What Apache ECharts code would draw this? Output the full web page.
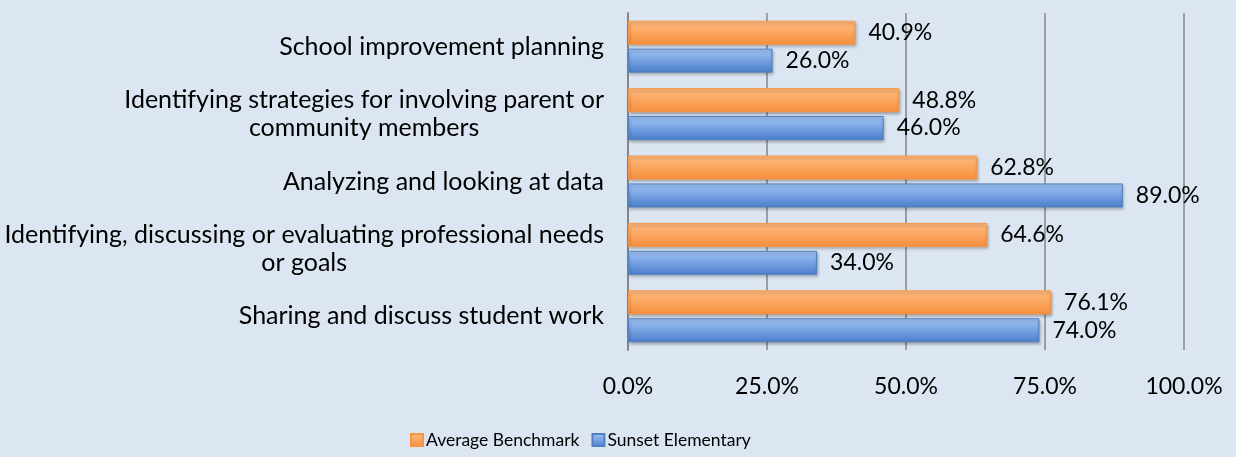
<!DOCTYPE html>
<html>
<head>
<meta charset="utf-8">
<script src="https://cdn.jsdelivr.net/npm/echarts@6/dist/echarts.min.js"></script>
<style>
  html, body { margin: 0; padding: 0; background: #dce6f2; }
  #chart { width: 1236px; height: 457px; }
</style>
</head>
<body>
<div id="chart"></div>
<script>
// 类别（自上而下）
const categories = [
    'School improvement planning',
    'Identifying strategies for involving parent or\ncommunity members',
    'Analyzing and looking at data',
    'Identifying, discussing or evaluating professional needs\nor goals',
    'Sharing and discuss student work'
];
const seriesNames = ['Average Benchmark', 'Sunset Elementary'];
const benchmarkValues = [40.9, 48.8, 62.8, 64.6, 76.1];
const sunsetValues = [26.0, 46.0, 89.0, 34.0, 74.0];
const xTicks = [0, 25, 50, 75, 100];

const FONT = 'Lato';

const chart = echarts.init(document.getElementById('chart'));

function barStyle(top, bottom, border) {
    return {
        color: new echarts.graphic.LinearGradient(0, 0, 0, 1, [
            { offset: 0, color: top },
            { offset: 1, color: bottom }
        ]),
        borderColor: border,
        borderWidth: 1,
        shadowColor: 'rgba(0,0,0,0.3)',
        shadowBlur: 3,
        shadowOffsetX: 1,
        shadowOffsetY: 2
    };
}

const valueLabel = {
    show: true,
    position: 'right',
    distance: 13,
    fontFamily: FONT,
    fontSize: 23,
    color: '#000',
    formatter: p => p.value.toFixed(1) + '%'
};

const option = {
    backgroundColor: '#dce6f2',
    animation: false,
    textStyle: { fontFamily: FONT },
    grid: { left: 628, right: 52, top: 13, bottom: 107 },
    legend: {
        data: seriesNames,
        left: 405,
        top: 426,
        itemWidth: 12,
        itemHeight: 12,
        itemGap: 12,
        icon: 'rect',
        textStyle: { fontFamily: FONT, fontSize: 17.5, color: '#000', padding: [0, 0, 0, -2] }
    },
    xAxis: {
        type: 'value',
        min: xTicks[0],
        max: xTicks[xTicks.length - 1],
        interval: 25,
        axisLine: { show: false },
        axisTick: { show: false },
        axisLabel: {
            margin: 25,
            fontFamily: FONT,
            fontSize: 23,
            color: '#000',
            formatter: v => v.toFixed(1) + '%'
        },
        splitLine: { show: true, lineStyle: { color: '#868686', width: 1.5 } }
    },
    yAxis: {
        type: 'category',
        data: categories,
        inverse: true,
        axisLine: { show: true, lineStyle: { color: '#868686', width: 2 } },
        axisTick: { show: false },
        axisLabel: {
            margin: 24,
            fontFamily: FONT,
            fontSize: 25,
            color: '#000',
            lineHeight: 28,
            formatter: v => v.split('\n').map(s => '{c|' + s + '}').join('\n'),
            rich: { c: { align: 'center', fontFamily: FONT, fontSize: 25, lineHeight: 28 } }
        }
    },
    series: [
        {
            name: seriesNames[0],
            type: 'bar',
            data: benchmarkValues,
            barCategoryGap: '23%',
            barGap: '16%',
            itemStyle: barStyle('#ffbc80', '#f68f3c', '#f79646'),
            label: valueLabel
        },
        {
            name: seriesNames[1],
            type: 'bar',
            data: sunsetValues,
            itemStyle: barStyle('#a3c6f8', '#4a7ecb', '#4f81bd'),
            label: valueLabel
        }
    ]
};

chart.setOption(option);
</script>
</body>
</html>
